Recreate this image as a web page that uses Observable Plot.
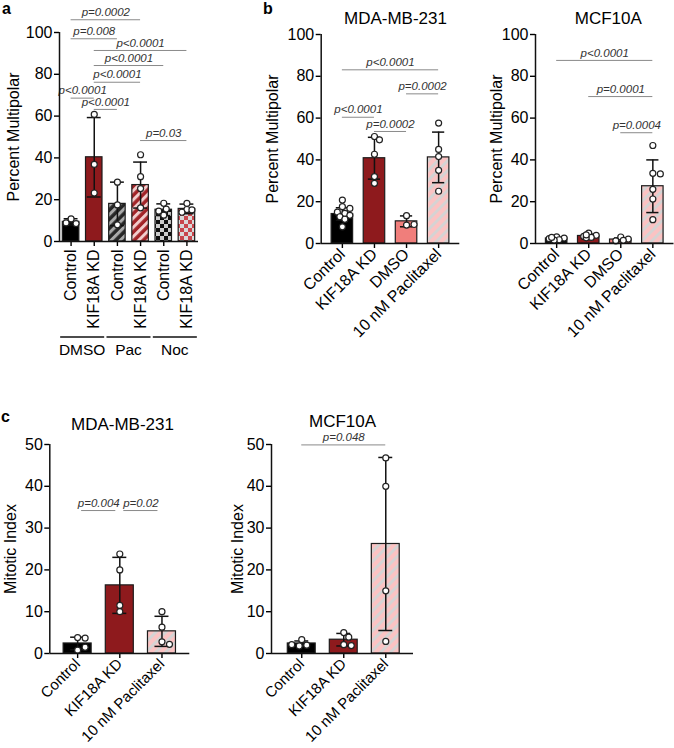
<!DOCTYPE html>
<html><head><meta charset="utf-8">
<script src="https://cdn.jsdelivr.net/npm/d3@7"></script>
<script src="https://cdn.jsdelivr.net/npm/@observablehq/plot@0.6"></script>
<style>
body{margin:0;background:#fff;}
#page{position:relative;width:674px;height:748px;overflow:hidden;font-family:"Liberation Sans",Arial,Helvetica,sans-serif;}
#page > svg{position:absolute;overflow:visible;}
.letter{position:absolute;font-weight:bold;font-size:16px;line-height:16px;}
#page svg [aria-label$="tick"] *{stroke-width:1.4px;}
#page svg.small-x [aria-label="x-axis tick label"] text{font-size:15px;}
</style></head><body>
<div id="page">
<svg width="0" height="0" style="position:absolute;left:0;top:0">
<defs>
<pattern id="hatchDark" patternUnits="userSpaceOnUse" width="6.5" height="6.5" patternTransform="rotate(45)">
<rect width="6.5" height="6.5" fill="#262626"/><rect width="3" height="6.5" fill="#a9a9a9"/></pattern>
<pattern id="hatchRed" patternUnits="userSpaceOnUse" width="6.5" height="6.5" patternTransform="rotate(45)">
<rect width="6.5" height="6.5" fill="#a22428"/><rect width="3" height="6.5" fill="#f1cccc"/></pattern>
<pattern id="checkDark" patternUnits="userSpaceOnUse" width="8" height="8">
<rect width="8" height="8" fill="#cdcdcd"/><rect width="4" height="4" fill="#111"/><rect x="4" y="4" width="4" height="4" fill="#111"/></pattern>
<pattern id="checkRed" patternUnits="userSpaceOnUse" width="8" height="8">
<rect width="8" height="8" fill="#d9d9d9"/><rect width="4" height="4" fill="#c8474d"/><rect x="4" y="4" width="4" height="4" fill="#c8474d"/></pattern>
<pattern id="hatchPink" patternUnits="userSpaceOnUse" width="7" height="7" patternTransform="rotate(45)">
<rect width="7" height="7" fill="#fbc3c3"/><rect width="2.8" height="7" fill="#d4d4d4"/></pattern>
</defs></svg>
<div class="letter" style="left:2px;top:1px">a</div>
<div class="letter" style="left:263px;top:1px">b</div>
<div class="letter" style="left:1px;top:409px">c</div>
</div>
<script>
// ---------- Panel a: Percent Multipolar (DMSO / Pac / Noc) ----------
const A_categories = ["Control","KIF18A KD","Control","KIF18A KD","Control","KIF18A KD"];
const A_means = [9.4, 40.3, 18.0, 27.0, 15.2, 15.6];
const A_sd = [1.5, 19.0, 10.4, 11.0, 2.8, 2.3];
const A_points = [[10.8, 8.6, 8.9],[60.8, 36.9, 23.2],[28.4, 17.5, 8.0],[41.5, 31.0, 25.3, 16.1],[18.3, 15.5, 14.5, 12.6],[18.2, 15.3, 15.1, 14.0]];
const A_groups = ["DMSO","Pac","Noc"];
const A_groupStart = [0, 2, 4];
const A_groupEnd = [1, 3, 5];
const A_pFrom = [0, 0, 1, 1, 1, 0, 1, 3];
const A_pTo = [3, 2, 5, 4, 3, 1, 2, 5];
const A_pLevel = [106.1, 97.0, 91.4, 84.2, 76.2, 68.6, 63.2, 48.3];
const A_pLabel = ["p=0.0002","p=0.008","p<0.0001","p<0.0001","p<0.0001","p<0.0001","p<0.0001","p=0.03"];

// ---------- Panel b: MDA-MB-231 ----------
const B1_categories = ["Control","KIF18A KD","DMSO","10 nM Paclitaxel"];
const B1_means = [14.1, 40.8, 10.6, 41.2];
const B1_sd = [3.0, 10.0, 2.6, 12.1];
const B1_points = [[20.8, 17.6, 16.8, 15.0, 14.4, 13.5, 12.8, 11.6, 8.0],[51.2, 49.6, 42.7, 32.0, 28.8],[13.3, 8.8, 9.1],[57.6, 45.0, 41.6, 35.0, 25.0]];
const B1_pFrom = [0, 2, 0, 1];
const B1_pTo = [3, 3, 1, 2];
const B1_pLevel = [83.1, 71.6, 60.4, 53.6];
const B1_pLabel = ["p<0.0001","p=0.0002","p<0.0001","p=0.0002"];

// ---------- Panel b: MCF10A ----------
const B2_categories = ["Control","KIF18A KD","DMSO","10 nM Paclitaxel"];
const B2_means = [2.4, 3.6, 1.9, 27.4];
const B2_sd = [0.6, 0.9, 0.8, 12.6];
const B2_points = [[3.2, 2.6, 2.3, 1.8, 1.6, 2.9],[5.0, 3.9, 3.4, 2.9, 2.7, 4.1],[3.1, 2.1, 1.3, 1.5],[46.9, 33.6, 33.3, 25.9, 21.3, 11.4]];
const B2_pFrom = [0, 1, 2];
const B2_pTo = [3, 3, 3];
const B2_pLevel = [87.6, 70.3, 53.0];
const B2_pLabel = ["p<0.0001","p=0.0001","p=0.0004"];

// ---------- Panel c: Mitotic Index ----------
const C1_categories = ["Control","KIF18A KD","10 nM Paclitaxel"];
const C1_means = [2.4, 16.3, 5.3];
const C1_sd = [1.5, 6.7, 3.6];
const C1_points = [[3.8, 3.7, 0.8, 1.5],[23.8, 20.0, 11.5, 10.0],[10.0, 6.3, 2.8, 2.2]];
const C1_pFrom = [0, 1];
const C1_pTo = [1, 2];
const C1_pLevel = [34.2, 34.2];
const C1_pLabel = ["p=0.004","p=0.02"];

const C2_categories = ["Control","KIF18A KD","10 nM Paclitaxel"];
const C2_means = [2.4, 3.3, 26.2];
const C2_sd = [0.6, 1.5, 20.7];
const C2_points = [[3.3, 2.0, 1.8, 2.1],[5.0, 3.9, 2.1, 1.9],[46.8, 40.0, 15.0, 2.9]];
const C2_pFrom = [0];
const C2_pTo = [2];
const C2_pLevel = [49.9];
const C2_pLabel = ["p=0.048"];

const pctTicks = [0, 20, 40, 60, 80, 100];
const mitTicks = [0, 10, 20, 30, 40, 50];

// styles
const BLACK = "#000", RED = "#8e1a1d", SALMON = "#f07e7b";
const FONT = '"Liberation Sans", Arial, Helvetica, sans-serif';

// simple beeswarm layout (pixel offsets) kept within the bar
function swarm(vals, pxPerUnit, maxOff, minDist = 6, stepOff = 2.5) {
  const placed = [];
  const cands = [0];
  for (let k = 1; k * stepOff <= maxOff; k++) cands.push(k * stepOff, -k * stepOff);
  return vals.map(v => {
    const py = v * pxPerUnit;
    let best = 0, bestD = -1;
    for (const c of cands) {
      const d = placed.length ? Math.min(...placed.map(p => Math.hypot(p[0] - c, p[1] - py))) : Infinity;
      if (d >= minDist) { best = c; bestD = d; break; }
      if (d > bestD) { bestD = d; best = c; }
    }
    placed.push([best, py]);
    return best;
  });
}

function barPanel(o) {
  const plotW = o.width - o.ml - o.mr, plotH = o.height - o.mt - o.mb;
  const pxPerUnit = plotH / o.yMax;
  const stepPx = plotW / (o.xDomain[1] - o.xDomain[0]);
  const bars = o.cats.map((c, i) => ({i, mean: o.means[i], sd: o.sds[i], fill: o.fills[i]}));
  const dots = o.points.flatMap((vals, i) => {
    const offs = swarm(vals, pxPerUnit, o.bw * stepPx - 3);
    return vals.map((v, k) => ({x: i + offs[k] / stepPx, v}));
  });
  const caps = bars.flatMap(d => [{i: d.i, y: d.mean + d.sd}, {i: d.i, y: d.mean - d.sd}]);
  const br = o.pFrom.map((f, k) => ({from: f, to: o.pTo[k], level: o.pLevel[k], label: o.pLabel[k]}));
  const marks = [
    Plot.rect(bars, {x1: d => d.i - o.bw, x2: d => d.i + o.bw, y1: 0, y2: "mean", fill: "fill", stroke: "#1c1c1c", strokeWidth: 1.2}),
    Plot.ruleX(bars, {x: "i", y1: d => d.mean - d.sd, y2: d => d.mean + d.sd, stroke: "#111", strokeWidth: 1.5}),
    Plot.ruleY(caps, {x1: d => d.i - o.cap, x2: d => d.i + o.cap, y: "y", stroke: "#111", strokeWidth: 1.5}),
    Plot.dot(dots, {x: "x", y: "v", r: 3, fill: "white", stroke: "#222", strokeWidth: 1.2}),
    Plot.ruleY(br, {x1: "from", x2: "to", y: "level", stroke: "#8a8a8a", strokeWidth: 1, insetLeft: o.brInset || 0, insetRight: o.brInset || 0}),
    Plot.text(br, {x: d => (d.from + d.to) / 2, y: "level", text: "label", dy: -7.5, fontSize: 11.5, fontStyle: "italic", fill: "#333"}),
    Plot.ruleY([0], {stroke: "#111", strokeWidth: 1.5}),
    Plot.ruleX([o.xDomain[0]], {y1: 0, y2: o.yMax, stroke: "#111", strokeWidth: 1.5}),
    Plot.text([o.ylabel], {frameAnchor: "left", textAnchor: "middle", rotate: -90, dx: o.ylabelDx, text: d => d, fontSize: 16})
  ];
  if (o.title) marks.push(Plot.text([o.title], {frameAnchor: "top", textAnchor: "middle", dx: o.titleDx, dy: o.titleDy, text: d => d, fontSize: 17}));
  if (o.extra) marks.push(o.extra);
  const svg = Plot.plot({
    width: o.width, height: o.height,
    marginLeft: o.ml, marginRight: o.mr, marginTop: o.mt, marginBottom: o.mb,
    x: {domain: o.xDomain, ticks: o.cats.map((_, i) => i), tickFormat: i => o.cats[i], tickRotate: o.rotate, tickSize: 5, tickPadding: 3, label: null},
    y: {domain: [0, o.yMax], ticks: o.yTicks, tickSize: 5, tickPadding: 2, label: null},
    color: {type: "identity"},
    style: {fontFamily: FONT, fontSize: "16px", background: "transparent", overflow: "visible", color: "#000"},
    marks
  });
  svg.style.left = o.left + "px";
  svg.style.top = o.top + "px";
  if (o.cls) svg.classList.add(o.cls);
  document.getElementById("page").appendChild(svg);
  return svg;
}

// group labels under panel a, positioned through the x scale
function groupMark(names, starts, ends) {
  return (index, scales, values, dimensions) => {
    const g = d3.create("svg:g");
    const base = dimensions.height - dimensions.marginBottom;
    names.forEach((name, k) => {
      const x1 = scales.x(starts[k] - 0.45), x2 = scales.x(ends[k] + 0.45);
      g.append("line").attr("x1", x1).attr("x2", x2).attr("y1", base + 96).attr("y2", base + 96)
        .attr("stroke", "#111").attr("stroke-width", 1.3);
      g.append("text").attr("x", (x1 + x2) / 2).attr("y", base + 114).attr("text-anchor", "middle")
        .attr("font-size", 15.5).attr("fill", "#000").text(name);
    });
    return g.node();
  };
}

barPanel({
  left: 0, top: 0, width: 250, height: 370, ml: 59, mr: 52, mt: 32, mb: 129,
  cats: A_categories, means: A_means, sds: A_sd, points: A_points,
  fills: [BLACK, RED, "url(#hatchDark)", "url(#hatchRed)", "url(#checkDark)", "url(#checkRed)"],
  pFrom: A_pFrom, pTo: A_pTo, pLevel: A_pLevel, pLabel: A_pLabel,
  yMax: 100, yTicks: pctTicks, xDomain: [-0.5, 5.5], bw: 0.356, cap: 0.3, rotate: -90,
  ylabel: "Percent Multipolar", ylabelDx: -46,
  extra: groupMark(A_groups, A_groupStart, A_groupEnd)
});
barPanel({
  left: 250, top: 0, width: 215, height: 340, ml: 70.7, mr: 5.7, mt: 34, mb: 97,
  cats: B1_categories, means: B1_means, sds: B1_sd, points: B1_points,
  fills: [BLACK, RED, SALMON, "url(#hatchPink)"],
  pFrom: B1_pFrom, pTo: B1_pTo, pLevel: B1_pLevel, pLabel: B1_pLabel,
  yMax: 100, yTicks: pctTicks, xDomain: [-0.66, 3.66], bw: 0.335, cap: 0.19, rotate: -45,
  ylabel: "Percent Multipolar", ylabelDx: -48.7, title: "MDA-MB-231", titleDx: 5, titleDy: -22.7
});
barPanel({
  left: 465, top: 0, width: 209, height: 340, ml: 70, mr: 0.5, mt: 34, mb: 97,
  cats: B2_categories, means: B2_means, sds: B2_sd, points: B2_points,
  fills: [BLACK, RED, SALMON, "url(#hatchPink)"],
  pFrom: B2_pFrom, pTo: B2_pTo, pLevel: B2_pLevel, pLabel: B2_pLabel,
  yMax: 100, yTicks: pctTicks, xDomain: [-0.66, 3.66], bw: 0.335, cap: 0.19, rotate: -45,
  ylabel: "Percent Multipolar", ylabelDx: -39, title: "MCF10A", titleDx: 3.5, titleDy: -22.7
});
barPanel({
  left: 0, top: 400, width: 225, height: 348, ml: 49.3, mr: 35.7, mt: 44, mb: 95, cls: "small-x",
  cats: C1_categories, means: C1_means, sds: C1_sd, points: C1_points,
  fills: [BLACK, RED, "url(#hatchPink)"],
  pFrom: C1_pFrom, pTo: C1_pTo, pLevel: C1_pLevel, pLabel: C1_pLabel, brInset: 4,
  yMax: 50, yTicks: mitTicks, xDomain: [-0.66, 2.66], bw: 0.332, cap: 0.166, rotate: -45,
  ylabel: "Mitotic Index", ylabelDx: -39.3, title: "MDA-MB-231", titleDx: 2.7, titleDy: -27
});
barPanel({
  left: 225, top: 400, width: 230, height: 348, ml: 46, mr: 42, mt: 44, mb: 95, cls: "small-x",
  cats: C2_categories, means: C2_means, sds: C2_sd, points: C2_points,
  fills: [BLACK, RED, "url(#hatchPink)"],
  pFrom: C2_pFrom, pTo: C2_pTo, pLevel: C2_pLevel, pLabel: C2_pLabel,
  yMax: 50, yTicks: mitTicks, xDomain: [-0.72, 2.66], bw: 0.332, cap: 0.166, rotate: -45,
  ylabel: "Mitotic Index", ylabelDx: -33.5, title: "MCF10A", titleDx: 0, titleDy: -30
});
</script>
</body></html>
